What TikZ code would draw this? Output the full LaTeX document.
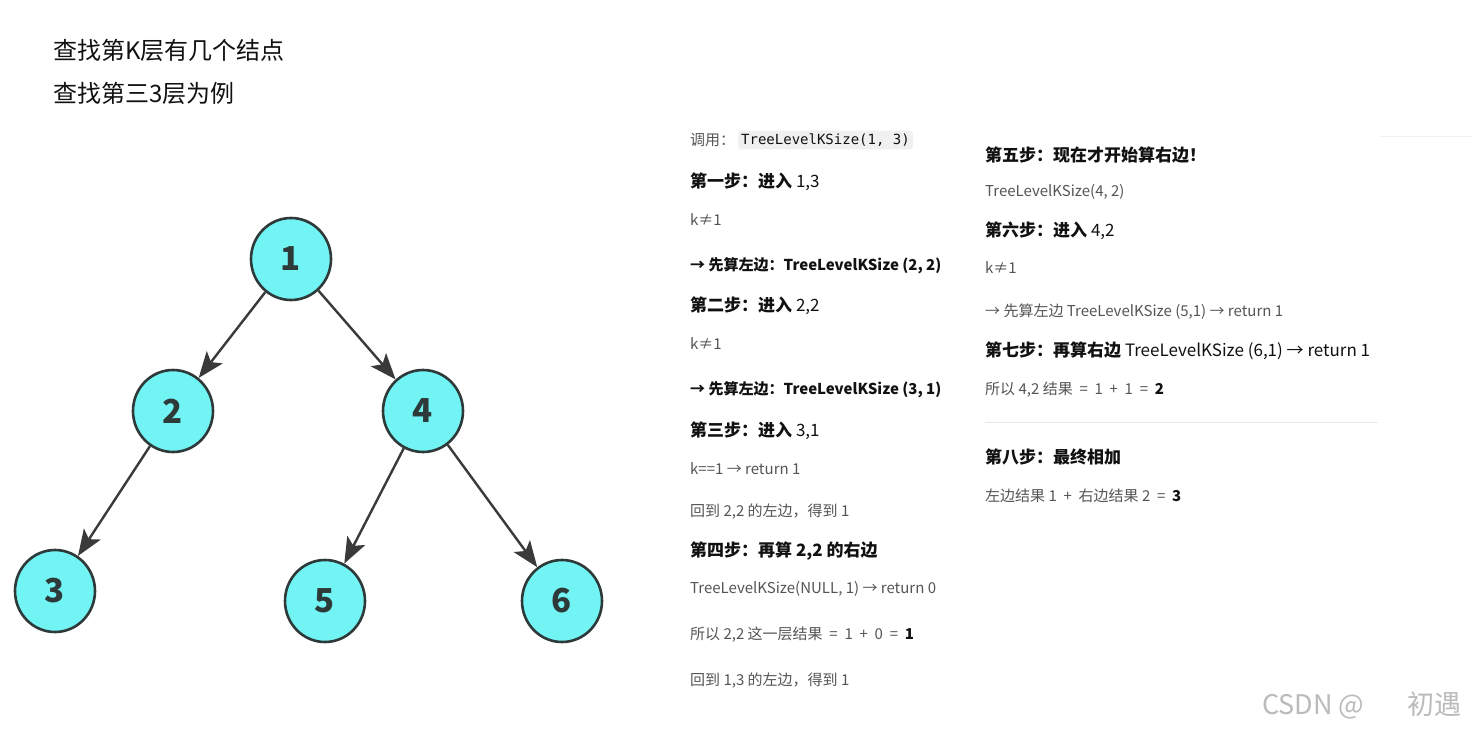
\documentclass[tikz,border=0pt]{standalone}
\usepackage{fontspec}
\setmainfont{Noto Sans CJK SC}
\setmonofont{DejaVu Sans Mono}
\usetikzlibrary{shapes.geometric,arrows.meta}
\definecolor{nodefill}{HTML}{72F4F4}
\definecolor{nodeline}{HTML}{2E3A3A}
\definecolor{edgecol}{HTML}{3A3A3A}
\definecolor{txtgray}{HTML}{555555}
\definecolor{txtdark}{HTML}{111111}
\definecolor{codebg}{HTML}{F0F0F0}
\definecolor{rulecol}{HTML}{E8E8E8}
\definecolor{wmcol}{HTML}{BBBBBB}
\newcommand{\opsp}{\hspace{0.45em}}
\begin{document}
\begin{tikzpicture}[x=1pt,y=-1pt,
  tnode/.style={ellipse,draw=nodeline,line width=2.6pt,fill=nodefill,minimum width=80pt,minimum height=82pt,inner sep=0pt,font=\fontsize{33}{33}\selectfont\bfseries,text=nodeline},
  edge/.style={draw=edgecol,line width=2.4pt,-{Stealth[length=26pt,width=20pt,inset=6pt]}},
  title/.style={anchor=west,inner sep=0pt,font=\fontsize{24}{24}\selectfont,text=txtdark},
  head/.style={anchor=west,inner sep=0pt,font=\fontsize{17}{17}\selectfont,text=txtdark},
  gline/.style={anchor=west,inner sep=0pt,font=\fontsize{15}{15}\selectfont,text=txtgray},
  bline/.style={anchor=west,inner sep=0pt,font=\fontsize{15}{15}\selectfont\bfseries,text=txtdark}]
\fill[white] (0,0) rectangle (1472,731);
\useasboundingbox (0,0) rectangle (1472,731);
% titles
\node[title] (t1) at (53,50) {查找第K层有几个结点};
\node[title] (t2) at (53,93) {查找第三3层为例};
% tree
\node[tnode] (n1) at (291,259) {1};
\node[tnode] (n2) at (173,411) {2};
\node[tnode] (n4) at (423,411) {4};
\node[tnode] (n3) at (55,591) {3};
\node[tnode] (n5) at (325,601) {5};
\node[tnode] (n6) at (562,601) {6};
\draw[edge] (n1) -- (n2);
\draw[edge] (n1) -- (n4);
\draw[edge] (n2) -- (n3);
\draw[edge] (n4) -- (n5);
\draw[edge] (n4) -- (n6);
% column 1
\node[gline] (c0) at (690,140) {调用：};
\node[anchor=west,fill=codebg,rounded corners=3pt,inner xsep=3pt,inner ysep=3pt,font=\ttfamily\fontsize{14}{14}\selectfont,text=txtdark] (code) at (738,140) {TreeLevelKSize(1, 3)};
\node[head] (s1) at (690,182) {\bfseries 第一步：进入\mdseries\ 1,3};
\node[gline] (a1) at (690,220) {k≠1};
\node[bline] (a2) at (690,266) {→ 先算左边：TreeLevelKSize (2, 2)};
\node[head] (s2) at (690,306) {\bfseries 第二步：进入\mdseries\ 2,2};
\node[gline] (a3) at (690,344) {k≠1};
\node[bline] (a4) at (690,390) {→ 先算左边：TreeLevelKSize (3, 1)};
\node[head] (s3) at (690,431) {\bfseries 第三步：进入\mdseries\ 3,1};
\node[gline] (a5) at (690,469) {k==1 → return 1};
\node[gline] (a6) at (690,512) {回到 2,2 的左边，得到 1};
\node[head] (s4) at (690,551) {\bfseries 第四步：再算 2,2 的右边};
\node[gline] (a7) at (690,589) {TreeLevelKSize(NULL, 1) → return 0};
\node[gline] (a8) at (690,635) {所以 2,2 这一层结果\opsp{}=\opsp{}1\opsp{}+\opsp{}0\opsp{}=\opsp{}{\bfseries\color{txtdark}1}};
\node[gline] (a9) at (690,681) {回到 1,3 的左边，得到 1};
% column 2
\node[head] (s5) at (985,155) {\bfseries 第五步：现在才开始算右边！};
\node[gline] (b1) at (985,192) {TreeLevelKSize(4, 2)};
\node[head] (s6) at (985,231) {\bfseries 第六步：进入\mdseries\ 4,2};
\node[gline] (b2) at (985,268) {k≠1};
\node[gline] (b3) at (985,312) {→ 先算左边 TreeLevelKSize (5,1) → return 1};
\node[head] (s7) at (985,351) {\bfseries 第七步：再算右边\mdseries\ TreeLevelKSize (6,1) → return 1};
\node[gline] (b4) at (985,390) {所以 4,2 结果\opsp{}=\opsp{}1\opsp{}+\opsp{}1\opsp{}=\opsp{}{\bfseries\color{txtdark}2}};
\draw[rulecol,line width=1pt] (985,422) -- (1378,422);
\node[head] (s8) at (985,457) {\bfseries 第八步：最终相加};
\node[gline] (b5) at (985,496) {左边结果 1\opsp{}+\opsp{}右边结果 2\opsp{}=\opsp{}{\bfseries\color{txtdark}3}};
% faint decorations
\draw[rulecol!60,line width=0.8pt] (1380,136) -- (1472,136);
% watermark
\node[anchor=west,inner sep=0pt,font=\fontsize{27}{27}\selectfont,text=wmcol] (wm) at (1262,705) {CSDN @\hspace{1.6em}初遇};
\end{tikzpicture}
\end{document}
